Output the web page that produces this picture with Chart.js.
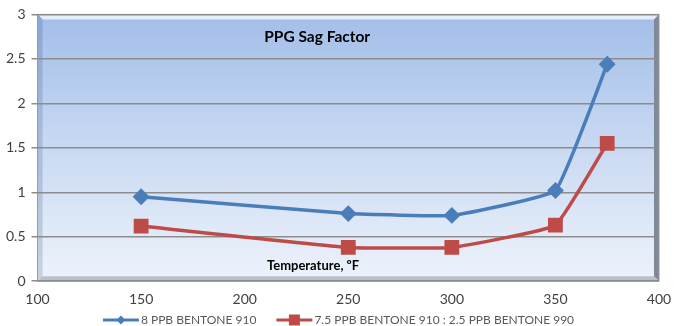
<!DOCTYPE html>
<html>
<head>
<meta charset="utf-8">
<script src="https://cdn.jsdelivr.net/npm/chart.js@4.4.0/dist/chart.umd.min.js"></script>
<style>
  html, body { margin: 0; padding: 0; background: #fff; }
  #wrap { width: 683px; height: 326px; }
</style>
</head>
<body>
<div id="wrap"><canvas id="sagChart"></canvas></div>
<script>
// chart data
const temperatures = [150, 250, 300, 350, 375];
const bentone910 = [0.95, 0.76, 0.74, 1.02, 2.44];
const bentoneMix = [0.62, 0.38, 0.38, 0.63, 1.55];
const seriesNames = ['8 PPB BENTONE 910', '7.5 PPB BENTONE 910 : 2.5 PPB BENTONE 990'];
const yTicks = [0, 0.5, 1, 1.5, 2, 2.5, 3];

const BLUE = '#4a7ebb';
const RED = '#be4b48';
const FONT = 'Lato, "Open Sans", sans-serif';

// gradient plot area with a bevelled frame, like the spreadsheet chart
const plotBackground = {
  id: 'plotBackground',
  beforeDraw(chart) {
    const { ctx, chartArea: a } = chart;
    const b = 5;
    ctx.save();
    const grad = ctx.createLinearGradient(0, a.top, 0, a.bottom);
    grad.addColorStop(0, '#a3bee9');
    grad.addColorStop(0.55, '#cddcf3');
    grad.addColorStop(1, '#eef3fb');
    ctx.fillStyle = grad;
    ctx.fillRect(a.left, a.top, a.width, a.height);
    // top highlight
    ctx.fillStyle = 'rgba(235,242,252,0.9)';
    ctx.beginPath();
    ctx.moveTo(a.left, a.top); ctx.lineTo(a.right, a.top);
    ctx.lineTo(a.right - b, a.top + b); ctx.lineTo(a.left + b, a.top + b); ctx.closePath(); ctx.fill();
    // left bevel
    const lg = ctx.createLinearGradient(0, a.top, 0, a.bottom);
    lg.addColorStop(0, '#8aa6d6'); lg.addColorStop(1, '#c9d3e2');
    ctx.fillStyle = lg;
    ctx.beginPath();
    ctx.moveTo(a.left, a.top); ctx.lineTo(a.left + b, a.top + b);
    ctx.lineTo(a.left + b, a.bottom - b); ctx.lineTo(a.left, a.bottom); ctx.closePath(); ctx.fill();
    // right bevel
    ctx.fillStyle = '#7f8a99';
    ctx.beginPath();
    ctx.moveTo(a.right, a.top); ctx.lineTo(a.right - b, a.top + b);
    ctx.lineTo(a.right - b, a.bottom - b); ctx.lineTo(a.right, a.bottom); ctx.closePath(); ctx.fill();
    // bottom bevel
    ctx.fillStyle = '#b9c1cc';
    ctx.beginPath();
    ctx.moveTo(a.left, a.bottom); ctx.lineTo(a.left + b, a.bottom - b);
    ctx.lineTo(a.right - b, a.bottom - b); ctx.lineTo(a.right, a.bottom); ctx.closePath(); ctx.fill();
    ctx.strokeStyle = '#9a9a9a';
    ctx.lineWidth = 1;
    ctx.strokeRect(a.left, a.top, a.width, a.height);
    ctx.restore();
  }
};

// title and axis caption sit inside the plot area
const innerLabels = {
  id: 'innerLabels',
  afterDatasetsDraw(chart) {
    const { ctx, scales } = chart;
    ctx.save();
    ctx.fillStyle = '#000';
    ctx.textAlign = 'center';
    ctx.textBaseline = 'middle';
    ctx.font = 'bold 15.5px ' + FONT;
    ctx.fillText('PPG Sag Factor', scales.x.getPixelForValue(235), scales.y.getPixelForValue(2.75));
    ctx.font = 'bold 13px ' + FONT;
    ctx.fillText('Temperature, \u00baF', scales.x.getPixelForValue(233), scales.y.getPixelForValue(0.17));
    ctx.restore();
  }
};

// legend drawn by hand: a line with the marker on it, then the name
const lineLegend = {
  id: 'lineLegend',
  afterDraw(chart) {
    const { ctx, width, height } = chart;
    const iconW = 36, gap = 2, itemGap = 20;
    ctx.save();
    ctx.font = '12px ' + FONT;
    const items = chart.data.datasets.map(ds => ({
      ds, w: iconW + gap + ctx.measureText(ds.label).width
    }));
    const total = items.reduce((s, it) => s + it.w, 0) + itemGap * (items.length - 1);
    let x = width / 2 - 3 - total / 2;
    const y = height - 6;
    items.forEach(({ ds, w }) => {
      ctx.strokeStyle = ds.borderColor;
      ctx.fillStyle = ds.borderColor;
      ctx.lineWidth = 3;
      ctx.beginPath(); ctx.moveTo(x, y); ctx.lineTo(x + iconW, y); ctx.stroke();
      const cx = x + iconW / 2;
      if (ds.pointStyle === 'rectRot') {
        ctx.beginPath();
        ctx.moveTo(cx, y - 4.5); ctx.lineTo(cx + 4.5, y); ctx.lineTo(cx, y + 4.5); ctx.lineTo(cx - 4.5, y);
        ctx.closePath(); ctx.fill();
      } else {
        ctx.fillRect(cx - 5.5, y - 5.5, 11, 11);
      }
      ctx.fillStyle = '#595959';
      ctx.textAlign = 'left';
      ctx.textBaseline = 'middle';
      ctx.fillText(ds.label, x + iconW + gap, y);
      x += w + itemGap;
    });
    ctx.restore();
  }
};

const ctx = document.getElementById('sagChart').getContext('2d');
new Chart(ctx, {
  type: 'line',
  data: {
    datasets: [
      {
        label: seriesNames[0],
        data: temperatures.map((t, i) => ({ x: t, y: bentone910[i] })),
        borderColor: BLUE,
        backgroundColor: BLUE,
        borderWidth: 3.5,
        pointStyle: 'rectRot',
        pointRadius: 6,
        pointHoverRadius: 6,
        tension: 0.1
      },
      {
        label: seriesNames[1],
        data: temperatures.map((t, i) => ({ x: t, y: bentoneMix[i] })),
        borderColor: RED,
        backgroundColor: RED,
        borderWidth: 3.5,
        pointStyle: 'rect',
        pointRadius: 8,
        pointHoverRadius: 8,
        tension: 0.1
      }
    ]
  },
  options: {
    responsive: true,
    maintainAspectRatio: false,
    animation: false,
    layout: { padding: { left: 0, right: 24, top: 4, bottom: 13 } },
    scales: {
      x: {
        type: 'linear',
        min: 100,
        max: 400,
        ticks: { stepSize: 50, color: '#404040', font: { family: FONT, size: 14 }, padding: 5 },
        grid: { display: false, drawOnChartArea: false, drawTicks: true, tickLength: 5, tickColor: '#8c8c8c' },
        border: { display: false }
      },
      y: {
        min: 0,
        max: 3,
        afterBuildTicks(axis) { axis.ticks = yTicks.map(v => ({ value: v })); },
        ticks: { color: '#404040', font: { family: FONT, size: 14 }, padding: 6, callback: v => String(v) },
        grid: { color: '#8c8c8c', lineWidth: 1.5, tickLength: 6, tickColor: '#8c8c8c' },
        border: { display: false }
      }
    },
    plugins: {
      legend: { display: false },
      tooltip: { enabled: false }
    }
  },
  plugins: [plotBackground, innerLabels, lineLegend]
});
</script>
</body>
</html>
